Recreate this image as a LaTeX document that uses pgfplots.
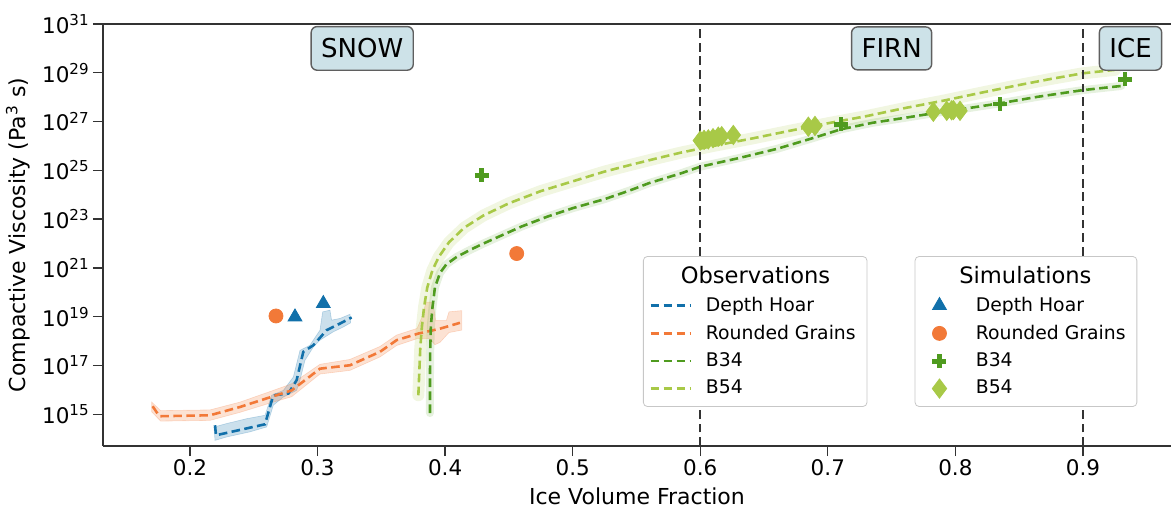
\documentclass[border=0pt]{standalone}
\usepackage{fontspec}
\setmainfont{DejaVu Sans}
\usepackage{pgfplots}
\pgfplotsset{compat=1.18}

\definecolor{dhblue}{RGB}{17,112,170}
\definecolor{rgorange}{RGB}{242,121,56}
\definecolor{bgreen}{RGB}{79,155,31}
\definecolor{blgreen}{RGB}{168,201,71}
\definecolor{spine}{RGB}{51,51,51}
\definecolor{boxfill}{RGB}{205,226,232}
\definecolor{boxedge}{RGB}{95,95,95}

% y values are log10 of the viscosity (Pa^3 s)
\tikzset{
  obsline/.style={dash pattern=on 4.3pt off 2.2pt, line width=1.3pt},
  region/.style={draw=boxedge, fill=boxfill, rounded corners=3pt, line width=0.7pt,
    inner xsep=5pt, inner ysep=6pt, font=\fontsize{13}{15}\selectfont},
  legbox/.style={anchor=north west, draw=black!22, rounded corners=2pt, fill=white,
    font=\fontsize{9.4}{11}\selectfont, inner xsep=3pt, inner ysep=3.8pt,
    row sep=3.3pt, column sep=6pt, nodes={inner sep=1pt}},
}
\pgfplotsset{
  base/.style={
    at={(0,0)}, anchor=south west,
    scale only axis, width=534pt, height=211pt,
    xmin=0.1318, xmax=0.969, ymin=13.7, ymax=31,
  },
}

\begin{document}
\begin{tikzpicture}
\begin{axis}[
  base, name=main,
  axis x line*=box, axis y line*=left,
  axis line style={spine, line width=0.65pt, -},
  tick pos=left, tick align=outside,
  major tick length=5pt,
  tick style={spine, line width=0.65pt},
  minor tick num=0,
  xtick={0.2,0.3,0.4,0.5,0.6,0.7,0.8,0.9},
  xticklabels={0.2,0.3,0.4,0.5,0.6,0.7,0.8,0.9},
  ytick={15,17,19,21,23,25,27,29,31},
  yticklabels={10\textsuperscript{15},10\textsuperscript{17},10\textsuperscript{19},10\textsuperscript{21},10\textsuperscript{23},10\textsuperscript{25},10\textsuperscript{27},10\textsuperscript{29},10\textsuperscript{31}},
  tick label style={font=\fontsize{10.75}{12}\selectfont, inner sep=1.5pt},
  xlabel={Ice Volume Fraction},
  ylabel={Compactive Viscosity (Pa\textsuperscript{3} s)},
  label style={font=\fontsize{11}{13}\selectfont},
  xlabel style={at={(axis description cs:0.5,-0.1185)}, anchor=center},
  ylabel style={at={(axis description cs:-0.0796,0.5)}, anchor=center},
  legend style={legbox, at={(0.5056,0.450)}},
  legend cell align=left,
  legend image code/.code={\draw[#1] (0pt,0pt) -- (20pt,0pt);},
]
\addlegendimage{empty legend}
\addlegendentry{\hspace*{-27pt}\makebox[103.5pt][c]{\fontsize{11.3}{13}\selectfont Observations}}

% shaded spread of the observations
\addplot[forget plot, fill=dhblue, fill opacity=0.22, draw=dhblue, draw opacity=0.25, line width=0.3pt] coordinates {
(0.2188,14.48) (0.2287,14.62) (0.2444,14.82) (0.2588,14.96) (0.2640,15.78) (0.2732,15.98)
(0.2810,16.53) (0.2862,17.62) (0.2940,17.83) (0.3019,18.45) (0.3040,19.20) (0.3097,19.27)
(0.3110,18.86) (0.3176,18.93) (0.3254,19.10)
(0.3259,18.75) (0.3202,18.58) (0.3123,18.38) (0.3019,18.04) (0.2967,17.76) (0.2901,17.21)
(0.2862,16.40) (0.2836,15.98) (0.2732,15.71) (0.2653,15.37) (0.2601,14.48) (0.2470,14.28)
(0.2287,14.07) (0.2196,13.93)} -- cycle;
\addplot[forget plot, fill=rgorange, fill opacity=0.22, draw=rgorange, draw opacity=0.25, line width=0.3pt] coordinates {
(0.1700,15.50) (0.1770,15.15) (0.2157,15.18) (0.2392,15.50) (0.2653,15.98) (0.2797,16.25)
(0.3019,17.05) (0.3254,17.25) (0.3489,17.78) (0.3620,18.25) (0.3780,18.52) (0.3820,19.00)
(0.3850,19.60) (0.3905,19.60) (0.3925,18.85) (0.4010,18.85) (0.4030,19.20) (0.4130,19.25)
(0.4130,18.45) (0.4030,18.35) (0.3960,17.95) (0.3920,17.85) (0.3880,18.10) (0.3780,18.10)
(0.3620,17.82) (0.3489,17.35) (0.3254,16.80) (0.3019,16.65) (0.2797,15.72) (0.2653,15.50)
(0.2392,15.08) (0.2157,14.75) (0.1770,14.72) (0.1700,15.10)} -- cycle;

% B34 and B54 spread
\addplot[forget plot, blgreen, draw opacity=0.16, line width=6pt, line join=round, line cap=round] coordinates {
(0.3790,15.78) (0.3798,16.80) (0.3805,17.70) (0.3818,18.60) (0.3835,19.40) (0.3860,20.20)
(0.3900,20.90) (0.3950,21.45) (0.4030,22.05) (0.4150,22.65) (0.4300,23.15) (0.4500,23.65)
(0.4750,24.15) (0.5000,24.55) (0.5250,24.95) (0.5450,25.22) (0.5650,25.48) (0.5850,25.73)
(0.6100,26.00) (0.6400,26.30) (0.6700,26.62) (0.7000,26.93) (0.7300,27.22) (0.7600,27.55)
(0.7900,27.85) (0.8200,28.18) (0.8500,28.50) (0.8750,28.75) (0.9000,28.98) (0.9250,29.12)};
\addplot[forget plot, bgreen, draw opacity=0.14, line width=4pt, line join=round, line cap=round] coordinates {
(0.3881,15.05) (0.3881,16.50) (0.3883,17.60) (0.3888,18.60) (0.3900,19.35) (0.3920,20.20)
(0.3960,20.80) (0.4010,21.15) (0.4090,21.45) (0.4200,21.75) (0.4300,22.00) (0.4450,22.35)
(0.4600,22.70) (0.4800,23.10) (0.5000,23.45) (0.5250,23.82) (0.5450,24.18) (0.5600,24.48)
(0.5850,24.88) (0.6000,25.15) (0.6300,25.50) (0.6600,25.88) (0.6900,26.35) (0.7100,26.68)
(0.7350,26.95) (0.7600,27.15) (0.7850,27.36) (0.8100,27.55) (0.8350,27.75) (0.8650,28.02)
(0.9000,28.29) (0.9300,28.46)};

% observations
\addplot[dhblue, obsline] coordinates {
(0.2196,14.55) (0.2204,14.14) (0.2588,14.59) (0.2653,15.78) (0.2771,15.85) (0.2836,16.40)
(0.2888,17.56) (0.2967,17.83) (0.3071,18.45) (0.3176,18.72) (0.3267,18.97)};
\addlegendentry{Depth Hoar}
\addplot[rgorange, obsline] coordinates {
(0.1707,15.33) (0.1760,14.92) (0.2157,14.96) (0.2392,15.30) (0.2653,15.74) (0.2797,15.98)
(0.3019,16.87) (0.3254,17.01) (0.3489,17.56) (0.3620,18.04) (0.3790,18.31) (0.3960,18.51)
(0.4116,18.75)};
\addlegendentry{Rounded Grains}
\addplot[bgreen, obsline] coordinates {
(0.3881,15.05) (0.3881,16.50) (0.3883,17.60) (0.3888,18.60) (0.3900,19.35) (0.3920,20.20)
(0.3960,20.80) (0.4010,21.15) (0.4090,21.45) (0.4200,21.75) (0.4300,22.00) (0.4450,22.35)
(0.4600,22.70) (0.4800,23.10) (0.5000,23.45) (0.5250,23.82) (0.5450,24.18) (0.5600,24.48)
(0.5850,24.88) (0.6000,25.15) (0.6300,25.50) (0.6600,25.88) (0.6900,26.35) (0.7100,26.68)
(0.7350,26.95) (0.7600,27.15) (0.7850,27.36) (0.8100,27.55) (0.8350,27.75) (0.8650,28.02)
(0.9000,28.29) (0.9300,28.46)};
\addlegendentry{B34}
\addplot[blgreen, obsline] coordinates {
(0.3790,15.78) (0.3798,16.80) (0.3805,17.70) (0.3818,18.60) (0.3835,19.40) (0.3860,20.20)
(0.3900,20.90) (0.3950,21.45) (0.4030,22.05) (0.4150,22.65) (0.4300,23.15) (0.4500,23.65)
(0.4750,24.15) (0.5000,24.55) (0.5250,24.95) (0.5450,25.22) (0.5650,25.48) (0.5850,25.73)
(0.6100,26.00) (0.6400,26.30) (0.6700,26.62) (0.7000,26.93) (0.7300,27.22) (0.7600,27.55)
(0.7900,27.85) (0.8200,28.18) (0.8500,28.50) (0.8750,28.75) (0.9000,28.98) (0.9250,29.12)};
\addlegendentry{B54}

% snow / firn / ice boundaries
\addplot[forget plot, spine, line width=1.1pt, dash pattern=on 4.4pt off 2.4pt] coordinates {(0.6,13.7) (0.6,31)};
\addplot[forget plot, spine, line width=1.1pt, dash pattern=on 4.4pt off 2.4pt] coordinates {(0.9,13.7) (0.9,31)};

\node[region] at (axis cs:0.335,30) {SNOW};
\node[region] at (axis cs:0.750,30) {FIRN};
\node[region] at (axis cs:0.9373,30) {ICE};
\end{axis}

\begin{axis}[
  base, hide axis,
  legend style={legbox, at={(0.760,0.450)}},
  legend cell align=left,
  legend image code/.code={\path (0pt,0pt) (20pt,0pt); \draw[#1] plot coordinates {(9pt,0pt)};},
]
\addlegendimage{empty legend}
\addlegendentry{\hspace*{-27pt}\makebox[103.5pt][c]{\fontsize{11.3}{13}\selectfont Simulations}}
\addplot[only marks, mark=triangle*, mark size=4pt, color=dhblue] coordinates {
(0.2823,18.99) (0.3045,19.54)};
\addlegendentry{Depth Hoar}
\addplot[only marks, mark=*, mark size=3.5pt, color=rgorange] coordinates {
(0.2674,19.03) (0.4561,21.59)};
\addlegendentry{Rounded Grains}
\addplot[only marks, mark=+, mark size=3.5pt, color=bgreen, mark options={line width=2.4pt}] coordinates {
(0.4287,24.80) (0.7103,26.89) (0.8350,27.72) (0.9330,28.73)};
\addlegendentry{B34}
\addplot[only marks, mark=diamond*, mark size=4.8pt, color=blgreen] coordinates {
(0.6000,26.22) (0.6030,26.25) (0.6063,26.27) (0.6100,26.32) (0.6141,26.38) (0.6168,26.40)
(0.6259,26.45) (0.6847,26.79) (0.6899,26.82) (0.7827,27.40) (0.7932,27.44) (0.7970,27.46)
(0.7984,27.47) (0.8036,27.44)};
\addlegendentry{B54}
\end{axis}

\pgfresetboundingbox
\path ([shift={(-51.5pt,-31.5pt)}]main.south west) rectangle ([shift={(0pt,12pt)}]main.north east);
\end{tikzpicture}
\end{document}
